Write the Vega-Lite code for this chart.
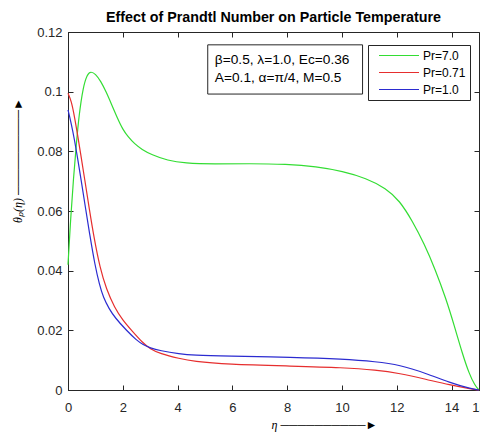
{
  "$schema": "https://vega.github.io/schema/vega-lite/v6.json",
  "width": 411,
  "height": 358,
  "autosize": {"type": "none"},
  "padding": {"left": 68, "top": 32, "right": 1, "bottom": 42},
  "background": "white",
  "title": {"text": "Effect of Prandtl Number on Particle Temperature", "font": "Liberation Sans", "fontSize": 14.3, "fontWeight": "bold", "color": "#000000", "offset": 1, "anchor": "middle"},
  "config": {"view": {"stroke": "#262626", "strokeWidth": 1}, "font": "Liberation Sans"},
  "resolve": {"axis": {"x": "independent", "y": "independent"}},
  "layer": [
    {
      "data": {"values": [
        {"series": "Pr=7.0", "eta": 0, "theta": 0.042},
        {"series": "Pr=7.0", "eta": 0.1, "theta": 0.058},
        {"series": "Pr=7.0", "eta": 0.2, "theta": 0.071},
        {"series": "Pr=7.0", "eta": 0.3, "theta": 0.082},
        {"series": "Pr=7.0", "eta": 0.4, "theta": 0.092},
        {"series": "Pr=7.0", "eta": 0.55, "theta": 0.1015},
        {"series": "Pr=7.0", "eta": 0.7, "theta": 0.1058},
        {"series": "Pr=7.0", "eta": 0.83, "theta": 0.1068},
        {"series": "Pr=7.0", "eta": 1.0, "theta": 0.106},
        {"series": "Pr=7.0", "eta": 1.2, "theta": 0.1035},
        {"series": "Pr=7.0", "eta": 1.4, "theta": 0.0998},
        {"series": "Pr=7.0", "eta": 1.6, "theta": 0.0955},
        {"series": "Pr=7.0", "eta": 1.8, "theta": 0.0912},
        {"series": "Pr=7.0", "eta": 2.0, "theta": 0.0873},
        {"series": "Pr=7.0", "eta": 2.2, "theta": 0.0848},
        {"series": "Pr=7.0", "eta": 2.43, "theta": 0.0825},
        {"series": "Pr=7.0", "eta": 2.7, "theta": 0.0806},
        {"series": "Pr=7.0", "eta": 3.04, "theta": 0.0789},
        {"series": "Pr=7.0", "eta": 3.64, "theta": 0.0769},
        {"series": "Pr=7.0", "eta": 4.25, "theta": 0.076},
        {"series": "Pr=7.0", "eta": 5.34, "theta": 0.0757},
        {"series": "Pr=7.0", "eta": 6.63, "theta": 0.0759},
        {"series": "Pr=7.0", "eta": 7.97, "theta": 0.0757},
        {"series": "Pr=7.0", "eta": 9.06, "theta": 0.0749},
        {"series": "Pr=7.0", "eta": 10.03, "theta": 0.0733},
        {"series": "Pr=7.0", "eta": 10.88, "theta": 0.0710},
        {"series": "Pr=7.0", "eta": 11.61, "theta": 0.0676},
        {"series": "Pr=7.0", "eta": 12.1, "theta": 0.0635},
        {"series": "Pr=7.0", "eta": 12.58, "theta": 0.0565},
        {"series": "Pr=7.0", "eta": 13.0, "theta": 0.049},
        {"series": "Pr=7.0", "eta": 13.4, "theta": 0.0405},
        {"series": "Pr=7.0", "eta": 13.8, "theta": 0.0305},
        {"series": "Pr=7.0", "eta": 14.1, "theta": 0.0215},
        {"series": "Pr=7.0", "eta": 14.4, "theta": 0.012},
        {"series": "Pr=7.0", "eta": 14.64, "theta": 0.0055},
        {"series": "Pr=7.0", "eta": 14.85, "theta": 0.0015},
        {"series": "Pr=7.0", "eta": 15, "theta": 0},
        {"series": "Pr=0.71", "eta": 0, "theta": 0.0995},
        {"series": "Pr=0.71", "eta": 0.12, "theta": 0.097},
        {"series": "Pr=0.71", "eta": 0.24, "theta": 0.0915},
        {"series": "Pr=0.71", "eta": 0.36, "theta": 0.085},
        {"series": "Pr=0.71", "eta": 0.49, "theta": 0.0775},
        {"series": "Pr=0.71", "eta": 0.6, "theta": 0.0712},
        {"series": "Pr=0.71", "eta": 0.78, "theta": 0.0605},
        {"series": "Pr=0.71", "eta": 0.95, "theta": 0.051},
        {"series": "Pr=0.71", "eta": 1.17, "theta": 0.0408},
        {"series": "Pr=0.71", "eta": 1.4, "theta": 0.0338},
        {"series": "Pr=0.71", "eta": 1.7, "theta": 0.0276},
        {"series": "Pr=0.71", "eta": 2.0, "theta": 0.0234},
        {"series": "Pr=0.71", "eta": 2.32, "theta": 0.02},
        {"series": "Pr=0.71", "eta": 2.74, "theta": 0.0157},
        {"series": "Pr=0.71", "eta": 3.0, "theta": 0.0138},
        {"series": "Pr=0.71", "eta": 3.35, "theta": 0.0122},
        {"series": "Pr=0.71", "eta": 4.08, "theta": 0.0105},
        {"series": "Pr=0.71", "eta": 4.57, "theta": 0.0096},
        {"series": "Pr=0.71", "eta": 5.78, "theta": 0.0086},
        {"series": "Pr=0.71", "eta": 8.2, "theta": 0.008},
        {"series": "Pr=0.71", "eta": 10.03, "theta": 0.0075},
        {"series": "Pr=0.71", "eta": 11.25, "theta": 0.0067},
        {"series": "Pr=0.71", "eta": 12.1, "theta": 0.0056},
        {"series": "Pr=0.71", "eta": 13.07, "theta": 0.0036},
        {"series": "Pr=0.71", "eta": 13.92, "theta": 0.0017},
        {"series": "Pr=0.71", "eta": 14.75, "theta": 0.0003},
        {"series": "Pr=0.71", "eta": 15, "theta": 0},
        {"series": "Pr=1.0", "eta": 0, "theta": 0.0939},
        {"series": "Pr=1.0", "eta": 0.12, "theta": 0.0893},
        {"series": "Pr=1.0", "eta": 0.24, "theta": 0.0837},
        {"series": "Pr=1.0", "eta": 0.36, "theta": 0.0772},
        {"series": "Pr=1.0", "eta": 0.48, "theta": 0.0703},
        {"series": "Pr=1.0", "eta": 0.63, "theta": 0.0615},
        {"series": "Pr=1.0", "eta": 0.8, "theta": 0.0517},
        {"series": "Pr=1.0", "eta": 0.98, "theta": 0.042},
        {"series": "Pr=1.0", "eta": 1.15, "theta": 0.0352},
        {"series": "Pr=1.0", "eta": 1.29, "theta": 0.031},
        {"series": "Pr=1.0", "eta": 1.5, "theta": 0.0272},
        {"series": "Pr=1.0", "eta": 1.71, "theta": 0.0243},
        {"series": "Pr=1.0", "eta": 2.14, "theta": 0.0199},
        {"series": "Pr=1.0", "eta": 2.5, "theta": 0.0167},
        {"series": "Pr=1.0", "eta": 2.74, "theta": 0.0152},
        {"series": "Pr=1.0", "eta": 3.0, "theta": 0.0141},
        {"series": "Pr=1.0", "eta": 3.35, "theta": 0.0132},
        {"series": "Pr=1.0", "eta": 4.08, "theta": 0.0121},
        {"series": "Pr=1.0", "eta": 4.57, "theta": 0.0117},
        {"series": "Pr=1.0", "eta": 5.78, "theta": 0.0114},
        {"series": "Pr=1.0", "eta": 8.2, "theta": 0.011},
        {"series": "Pr=1.0", "eta": 10.03, "theta": 0.0104},
        {"series": "Pr=1.0", "eta": 11.25, "theta": 0.0095},
        {"series": "Pr=1.0", "eta": 12.1, "theta": 0.0084},
        {"series": "Pr=1.0", "eta": 13.07, "theta": 0.0056},
        {"series": "Pr=1.0", "eta": 13.92, "theta": 0.0025},
        {"series": "Pr=1.0", "eta": 14.75, "theta": 0.0003},
        {"series": "Pr=1.0", "eta": 15, "theta": 0}
      ]},
      "mark": {"type": "line", "interpolate": "basis", "strokeWidth": 1.2},
      "encoding": {
        "x": {"field": "eta", "type": "quantitative",
          "scale": {"domain": [0, 15], "nice": false, "zero": false},
          "axis": {"orient": "bottom", "values": [0, 2, 4, 6, 8, 10, 12, 14, 15], "format": "~g", "grid": false,
            "tickSize": -5, "tickColor": "#262626", "domainColor": "#262626",
            "labelColor": "#262626", "labelFont": "Liberation Sans", "labelFontSize": 13, "labelPadding": 16,
            "labelFlush": false, "labelOverlap": false,
            "title": "η ──────────►", "titleFont": "Liberation Serif", "titleFontStyle": "italic", "titleFontWeight": "normal",
            "titleFontSize": 12, "titleColor": "#000000", "titleAlign": "left", "titleX": 203, "titleY": 38, "titleBaseline": "alphabetic"}},
        "y": {"field": "theta", "type": "quantitative",
          "scale": {"domain": [0, 0.12], "nice": false},
          "axis": {"orient": "left", "values": [0, 0.02, 0.04, 0.06, 0.08, 0.1, 0.12], "format": ".2~f", "grid": false,
            "tickSize": -5, "tickColor": "#262626", "domainColor": "#262626",
            "labelColor": "#262626", "labelFont": "Liberation Sans", "labelFontSize": 13, "labelPadding": 11,
            "title": "θₚ(η) ──────────►", "titleFont": "Liberation Serif", "titleFontStyle": "italic", "titleFontWeight": "normal",
            "titleFontSize": 12, "titleColor": "#000000", "titleAngle": 270, "titleAlign": "center", "titleBaseline": "middle",
            "titleX": -51, "titleY": 128}},
        "color": {"field": "series", "type": "nominal",
          "scale": {"domain": ["Pr=7.0", "Pr=0.71", "Pr=1.0"], "range": ["#33dd33", "#e62e2e", "#2b2bd0"]},
          "legend": {"orient": "none", "legendX": 300, "legendY": 13, "title": null,
            "symbolType": "stroke", "symbolSize": 1600, "symbolStrokeWidth": 1.2,
            "clipHeight": 13, "rowPadding": 4, "padding": 4, "symbolOffset": 6, "labelOffset": 3,
            "labelFont": "Liberation Sans", "labelFontSize": 12, "labelColor": "#000000",
            "strokeColor": "#262626", "fillColor": "white", "labelExpr": "datum.label + '   '"}}
      }
    },
    {
      "data": {"values": [{}]},
      "mark": {"type": "rect", "fill": "white", "stroke": "#262626", "strokeWidth": 1},
      "encoding": {
        "x": {"datum": 5.1, "type": "quantitative",
          "axis": {"orient": "top", "values": [0, 2, 4, 6, 8, 10, 12, 14], "labels": false, "domain": false, "grid": false, "tickSize": -5, "tickColor": "#262626", "title": null}},
        "x2": {"datum": 10.75},
        "y": {"datum": 0.1157, "type": "quantitative",
          "axis": {"orient": "right", "values": [0, 0.02, 0.04, 0.06, 0.08, 0.1, 0.12], "labels": false, "domain": false, "grid": false, "tickSize": -5, "tickColor": "#262626", "title": null}},
        "y2": {"datum": 0.0992}
      }
    },
    {
      "data": {"values": [{}]},
      "mark": {"type": "text", "align": "left", "baseline": "alphabetic", "font": "Liberation Sans", "fontSize": 13.7, "lineHeight": 18, "color": "#000000"},
      "encoding": {
        "x": {"datum": 5.36, "type": "quantitative", "axis": null},
        "y": {"datum": 0.1093, "type": "quantitative", "axis": null},
        "text": {"value": ["β=0.5, λ=1.0, Ec=0.36", "A=0.1, α=π/4, M=0.5"]}
      }
    }
  ]
}
